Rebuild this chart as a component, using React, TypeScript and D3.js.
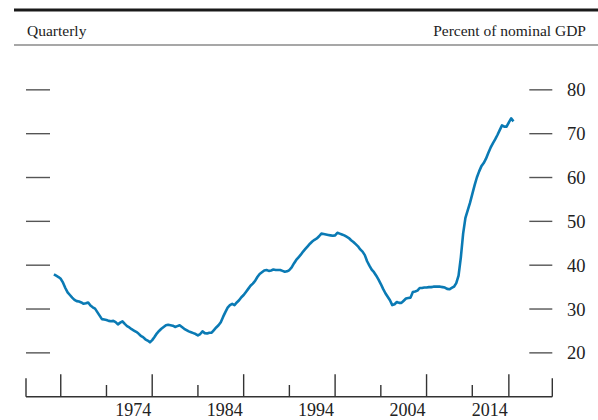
import * as d3 from 'd3';

// quarterly, first point is 1964:Q2
const startQuarter = 1964.25;
const debtPct = [
  37.9, 37.6, 37.3,
  36.9, 36.0, 34.8, 33.8,
  33.2, 32.6, 32.1, 31.8,
  31.7, 31.5, 31.2, 31.3,
  31.5, 30.8, 30.4, 30.1,
  29.3, 28.5, 27.7, 27.6,
  27.5, 27.3, 27.2, 27.3,
  27.0, 26.5, 26.9, 27.2,
  26.6, 26.1, 25.8, 25.4,
  25.1, 24.8, 24.4, 23.9,
  23.6, 23.1, 22.8, 22.4,
  22.9, 23.6, 24.4, 25.0,
  25.5, 25.9, 26.3, 26.4,
  26.3, 26.2, 25.9, 26.1,
  26.3, 25.9, 25.5, 25.2,
  24.9, 24.7, 24.5, 24.3,
  24.0, 24.3, 24.9, 24.5,
  24.4, 24.6, 24.6, 25.2,
  25.8, 26.3, 27.0, 28.2,
  29.3, 30.3, 30.9, 31.2,
  30.9, 31.5, 32.0, 32.7,
  33.2, 33.9, 34.6, 35.3,
  35.8, 36.4, 37.3, 38.0,
  38.4, 38.8, 38.9, 38.7,
  38.8, 39.0, 38.9, 38.9,
  38.9, 38.7, 38.5, 38.6,
  38.9, 39.5, 40.4, 41.2,
  41.8, 42.4, 43.1, 43.7,
  44.3, 44.9, 45.4, 45.8,
  46.1, 46.6, 47.2, 47.1,
  47.0, 46.9, 46.8, 46.7,
  46.8, 47.4, 47.2, 47.0,
  46.8, 46.5, 46.2, 45.7,
  45.3, 44.8, 44.3, 43.6,
  43.1, 42.3, 40.9, 39.9,
  39.0, 38.4, 37.6, 36.7,
  35.7, 34.6, 33.6, 32.8,
  32.0, 30.9, 31.1, 31.6,
  31.4, 31.4, 31.9, 32.4,
  32.5, 32.6, 33.9, 34.0,
  34.2, 34.8, 34.8, 34.9,
  34.9, 35.0, 35.0, 35.1,
  35.1, 35.1, 35.1, 35.0,
  34.9, 34.6, 34.5, 34.8,
  35.1, 35.9, 37.6, 41.8,
  47.2, 50.8, 52.5, 54.2,
  56.2, 58.2, 60.0, 61.4,
  62.6, 63.3, 64.3, 65.6,
  66.8, 67.8, 68.7, 69.7,
  70.8, 71.9, 71.6, 71.6,
  72.6, 73.5, 72.8,
];

const yTicks = [20, 30, 40, 50, 60, 70, 80];
const majorTicks = [1965, 1975, 1985, 1995, 2005, 2014];
const minorTicks = [1970, 1980, 1990, 2000, 2010];
const xLabels = ['', '1974', '1984', '1994', '2004', '2014'];

const W = 598;
const H = 420;
const serif = '"Liberation Serif", "Times New Roman", serif';

export default function App() {
  const x = d3.scaleLinear().domain([1961.2, 2018.75]).range([26, 552.3]);
  const y = d3.scaleLinear().domain([10, 90]).range([396.7, 46]);
  const base = y(10);

  const pts = debtPct.map((v, i) => [startQuarter + i / 4, v] as [number, number]);
  const line = d3.line<[number, number]>()
    .x((d) => x(d[0]))
    .y((d) => y(d[1]))
    .curve(d3.curveLinear);

  const [x0, x1] = x.range();

  return (
    <svg width={W} height={H} style={{ position: 'absolute', left: 0, top: 0, background: '#fff' }}>
      {/* header rules + captions */}
      <line x1={14} x2={W} y1={10} y2={10} stroke="#1a1a1a" strokeWidth={3} />
      <line x1={14} x2={W} y1={45} y2={45} stroke="#8a8a8a" strokeWidth={1.6} />
      <text x={27} y={36} fontFamily={serif} fontSize={15.5} fill="#222">Quarterly</text>
      <text x={586} y={36} fontFamily={serif} fontSize={15.5} fill="#222" textAnchor="end">Percent of nominal GDP</text>

      {/* y ticks, both sides */}
      {yTicks.map((t) => (
        <g key={t}>
          <line x1={x0} x2={x0 + 24} y1={y(t)} y2={y(t)} stroke="#555" strokeWidth={1.4} />
          <line x1={x1 - 23} x2={x1} y1={y(t)} y2={y(t)} stroke="#555" strokeWidth={1.4} />
          <text x={567} y={y(t)} dy="0.35em" fontFamily={serif} fontSize={18.5} fill="#222">{t}</text>
        </g>
      ))}

      {/* x axis */}
      <line x1={x0} x2={x1} y1={base} y2={base} stroke="#333" strokeWidth={1.4} />
      <line x1={x0} x2={x0} y1={base} y2={base - 18.5} stroke="#333" strokeWidth={1.4} />
      <line x1={x1} x2={x1} y1={base} y2={base - 18.5} stroke="#333" strokeWidth={1.4} />
      {majorTicks.map((t, i) => (
        <g key={t}>
          <line x1={x(t)} x2={x(t)} y1={base} y2={base - 22.5} stroke="#333" strokeWidth={1.4} />
          {xLabels[i] && (
            <text x={x(t) - 1} y={415.5} fontFamily={serif} fontSize={18} fill="#222" textAnchor="end">{xLabels[i]}</text>
          )}
        </g>
      ))}
      {minorTicks.map((t) => (
        <line key={t} x1={x(t)} x2={x(t)} y1={base} y2={base - 11.7} stroke="#333" strokeWidth={1.4} />
      ))}

      <path d={line(pts) ?? ''} fill="none" stroke="#0a7ab4" strokeWidth={2.6} strokeLinejoin="round" />
    </svg>
  );
}
